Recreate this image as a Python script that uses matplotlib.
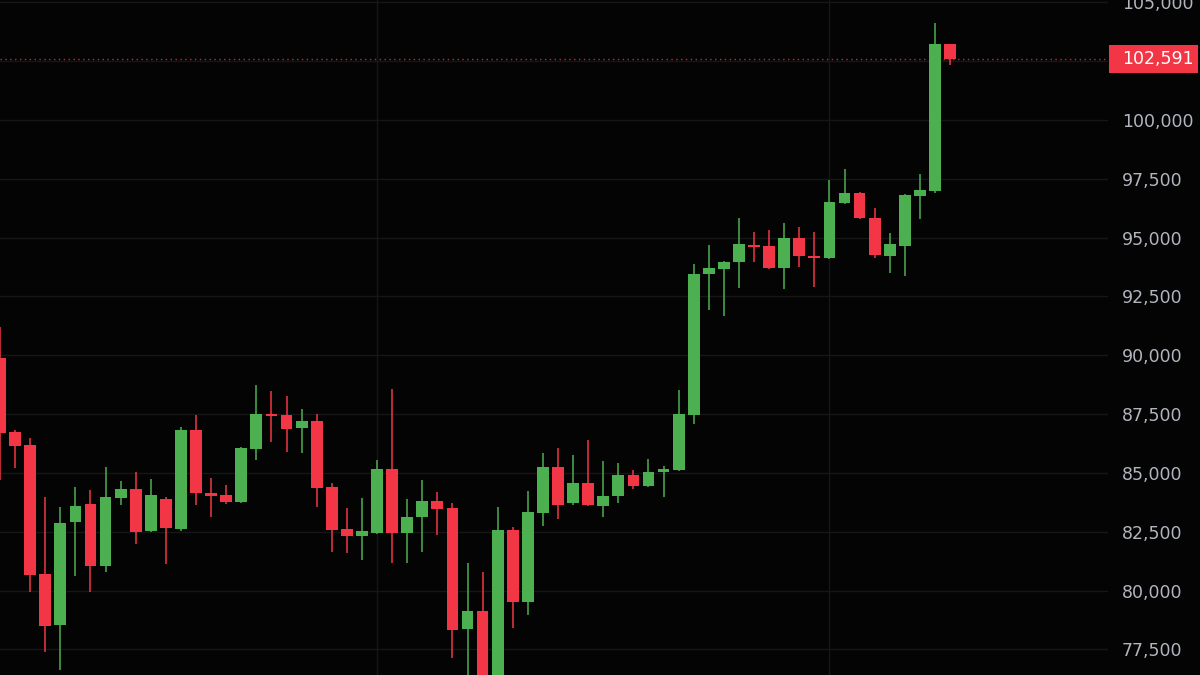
import numpy as np
import matplotlib
matplotlib.use("Agg")
import matplotlib.pyplot as plt
from matplotlib.patches import Rectangle
from matplotlib.transforms import blended_transform_factory

# Daily OHLC (oldest first)
opens = [89885, 86740, 86190, 80705, 78540, 82915, 83680, 81045, 83935, 84320,
         82530, 83895, 82620, 86825, 84150, 84065, 83765, 86020, 87505, 87465,
         86910, 87210, 84405, 82620, 82320, 82450, 85170, 82450, 83130, 83810,
         83510, 78370, 79135, 76300, 82575, 79515, 83300, 85255, 83725, 84575,
         83595, 84020, 84915, 84445, 85040, 85125, 87465, 93455, 93670, 93965,
         94645, 94645, 93710, 94985, 94220, 94135, 96475, 96900, 95835, 94220,
         94645, 96770, 96985, 103230]
highs = [91200, 86825, 86485, 83980, 83555, 84405, 84275, 85255, 84660, 85040,
         84745, 83980, 86955, 87465, 84785, 84490, 86105, 88740, 88485, 88270,
         87720, 87505, 84575, 83510, 83935, 85550, 88570, 83895, 84700, 84190,
         83725, 81175, 80790, 83555, 82705, 84235, 85850, 86060, 85765, 86400,
         85510, 85425, 85125, 85595, 85295, 88525, 93880, 94690, 94010, 95835,
         95240, 95325, 95625, 95455, 95240, 97450, 97920, 96940, 96260, 95200,
         96855, 97705, 104125, 103250]
lows = [84700, 85210, 79940, 77390, 76625, 80620, 79940, 80790, 83640, 81980,
        82500, 81130, 82550, 83640, 83130, 83680, 83725, 85550, 86315, 85890,
        85850, 83555, 81640, 81600, 81300, 82400, 81175, 81175, 81640, 82365,
        77135, 74500, 76200, 74600, 78410, 78965, 82745, 83045, 83640, 83595,
        83130, 83725, 84320, 84405, 83980, 85100, 87080, 91925, 91670, 92860,
        93965, 93670, 92820, 93755, 92905, 94095, 96430, 95795, 94135, 93500,
        93370, 95795, 96900, 102340]
closes = [86700, 86145, 80665, 78495, 82875, 83595, 81045, 83980, 84320, 82490,
          84065, 82660, 86825, 84150, 84020, 83765, 86060, 87505, 87420, 86870,
          87210, 84360, 82575, 82320, 82535, 85170, 82450, 83130, 83810, 83470,
          78325, 79135, 76300, 82575, 79515, 83340, 85255, 83640, 84575, 83640,
          84020, 84915, 84445, 85040, 85170, 87505, 93455, 93710, 93965, 94730,
          94605, 93710, 94985, 94220, 94135, 96515, 96900, 95835, 94265, 94730,
          96815, 97025, 103230, 102591]
month_starts = [25, 55]
price_ticks = list(range(77500, 105001, 2500))

up_color = "#4caf50"
down_color = "#f23645"
grid_color = "#161616"
label_color = "#b2b5be"
bg = "#040404"

W, H = 1200, 675
fig = plt.figure(figsize=(W / 100, H / 100), dpi=100, facecolor=bg)
ax = fig.add_axes([0, 0, 1108 / W, 1])
ax.set_facecolor(bg)

ymin, ymax = 76412, 105100
ax.set_xlim(0, 73.47)
ax.set_ylim(ymin, ymax)
per_px = (ymax - ymin) / H

x = np.arange(len(opens))
o = np.array(opens)
c = np.array(closes)
colors = [up_color if cc >= oo else down_color for oo, cc in zip(o, c)]

# wicks, then bodies
ax.vlines(x, lows, highs, colors=colors, linewidth=1.1, zorder=2)
bottoms = np.minimum(o, c)
heights = np.maximum(np.abs(c - o), 1.5 * per_px)
ax.bar(x, heights, bottom=bottoms, width=0.78, color=colors, linewidth=0, zorder=3)

# grid
ax.set_yticks(price_ticks)
ax.set_xticks(month_starts)
ax.set_xticklabels([])
ax.grid(True, color=grid_color, linewidth=1)
ax.set_axisbelow(True)
for s in ax.spines.values():
    s.set_visible(False)
ax.yaxis.tick_right()
ax.tick_params(axis="y", length=0, pad=10, labelsize=12.5, labelcolor=label_color)
ax.tick_params(axis="x", length=0)

last = closes[-1]
# the price tag hides the tick label it sits on
ax.set_yticklabels(["" if abs(v - last) < 1000 else f"{v:,}" for v in price_ticks])

# last price line and tag
ax.axhline(last, color=down_color, alpha=0.8, linestyle=(0, (1, 2.5)),
           linewidth=1, zorder=1)
trans = blended_transform_factory(fig.transFigure, ax.transData)
box_h = 28 * per_px
fig.patches.append(Rectangle((1109 / W, last - box_h / 2), 89 / W, box_h,
                             transform=trans, facecolor=down_color,
                             edgecolor="none", figure=fig, zorder=5))
fig.text(1122 / W, last, f"{last:,}", transform=trans, color="white",
         fontsize=12.5, va="center", ha="left", zorder=6)

fig.savefig("out.png", dpi=100, facecolor=bg)
